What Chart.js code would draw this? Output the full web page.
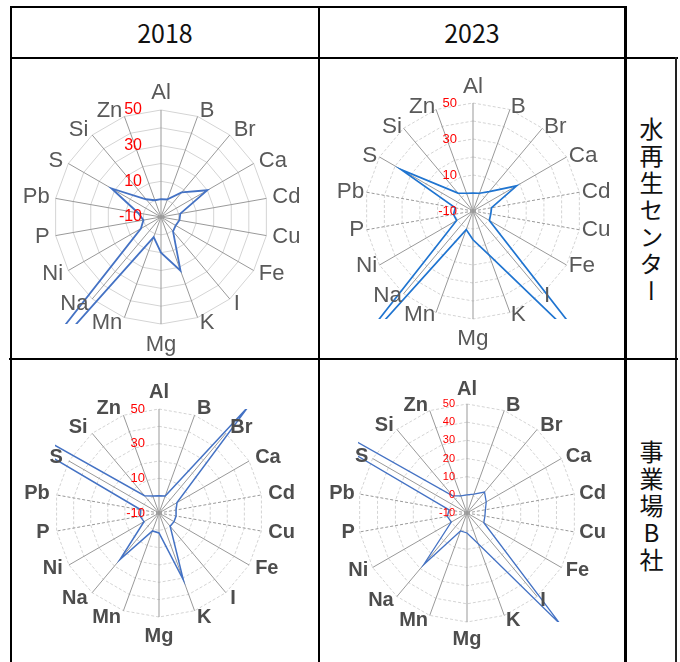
<!DOCTYPE html>
<html lang="ja">
<head>
<meta charset="utf-8">
<script src="https://cdn.jsdelivr.net/npm/chart.js@4.4.1/dist/chart.umd.min.js"></script>
<style>
html,body{margin:0;padding:0;background:#fff;}
body{width:680px;height:662px;position:relative;overflow:hidden;font-family:"Noto Sans CJK JP",sans-serif;}
.ln{position:absolute;background:#000;}
.hd{position:absolute;top:8px;height:49px;line-height:49px;text-align:center;font-size:25px;color:#111;}
.side{position:absolute;left:638px;width:26px;line-height:26px;writing-mode:vertical-rl;text-orientation:upright;font-size:24px;letter-spacing:3px;color:#111;}
canvas{position:absolute;}
</style>
</head>
<body>
<!-- table frame -->
<div class="ln" style="left:10px;top:6px;width:617px;height:2px"></div>
<div class="ln" style="left:10px;top:57px;width:668px;height:2px"></div>
<div class="ln" style="left:10px;top:6px;width:2px;height:656px"></div>
<div class="ln" style="left:318px;top:6px;width:2px;height:656px"></div>
<div class="ln" style="left:624px;top:6px;width:3px;height:656px"></div>
<div class="ln" style="left:675px;top:57px;width:2px;height:605px;background:#222"></div>
<div class="ln" style="left:9px;top:358px;width:669px;height:2px"></div>

<div class="hd" style="left:12px;width:306px">2018</div>
<div class="hd" style="left:320px;width:304px">2023</div>
<div class="side" style="top:117px">水再生センター</div>
<div class="side" style="top:440px">事業場B社</div>

<!-- 300x300 canvases, plot centre at (150,150) -->
<canvas id="c1" width="300" height="300" style="left:11px;top:67px"></canvas>
<canvas id="c2" width="300" height="300" style="left:323px;top:61px"></canvas>
<canvas id="c3" width="300" height="300" style="left:9px;top:363px"></canvas>
<canvas id="c4" width="300" height="300" style="left:317px;top:363px"></canvas>

<script>
// Element axes, clockwise from the top
const elements = ['Al','B','Br','Ca','Cd','Cu','Fe','I','K','Mg','Mn','Na','Ni','P','Pb','S','Si','Zn'];

// Water reclamation center
const plant2018 = [0, 0.5, 8, 20, 1, 0.5, -0.5, 0.5, 22, 10, 2, 140, 3, 0, 3, 22, 3, 0];
const plant2023 = [0, 0.5, 4, 18, 0.5, 0, 0.5, 97, 16, 6, 1, 110, 0.5, 1, 0, 36, 3, 0.5];

// Company B site
const firmB2018 = [0, 0.5, 70, 2, 0, 0, 0, 0, 31, 1.5, 1, 25, 0, 1, 0.7, 400, 3, 0.5];
const firmB2023 = [0, 1, 5, 2.2, 0.3, 0, 0.7, 70, 8, 1, 0.5, 27, 0, 1, 0, 450, 2.3, 0];

// Value-axis labels
const ticksOdd = ['-10', '10', '30', '50'];
const ticksAll = ['-10', '0', '10', '20', '30', '40', '50'];

const FONT = '"Liberation Sans", Arial, sans-serif';

// Element names: side labels start at the axis end, top/bottom ones are centred
const axisLabels = {
  id: 'axisLabels',
  afterDraw(chart, args, o) {
    const r = chart.scales.r, ctx = chart.ctx, R = r.drawingArea;
    const labels = chart.data.labels, n = labels.length;
    ctx.save();
    ctx.font = o.weight + ' ' + o.size + 'px ' + FONT;
    ctx.fillStyle = o.color;
    labels.forEach((txt, i) => {
      const deg = i * 360 / n;
      if (deg === 0 || deg === 180) {
        const p = r.getPointPosition(i, R + o.endGap);
        ctx.textAlign = 'center';
        ctx.textBaseline = 'alphabetic';
        ctx.fillText(txt, p.x, deg === 0 ? p.y : p.y + o.size * 0.72);
      } else {
        const p = r.getPointPosition(i, R + o.gap);
        ctx.textAlign = deg < 180 ? 'left' : 'right';
        ctx.textBaseline = 'middle';
        ctx.fillText(txt, p.x, p.y);
      }
    });
    ctx.restore();
  }
};

// Red value labels, right-aligned just left of the first axis
const valueLabels = {
  id: 'valueLabels',
  afterDraw(chart, args, o) {
    const r = chart.scales.r, ctx = chart.ctx;
    ctx.save();
    ctx.font = o.size + 'px ' + FONT;
    ctx.fillStyle = '#ff0000';
    ctx.textAlign = 'right';
    ctx.textBaseline = 'middle';
    o.labels.forEach(t => {
      const d = r.getDistanceFromCenterForValue(Number(t));
      ctx.fillText(t, r.xCenter - o.gap, r.yCenter - d);
    });
    ctx.restore();
  }
};

// Off-scale spikes are cut at the square plot area
const squareClip = {
  id: 'squareClip',
  beforeDatasetsDraw(chart) {
    const r = chart.scales.r, R = r.drawingArea, ctx = chart.ctx;
    ctx.save();
    ctx.beginPath();
    ctx.rect(r.xCenter - R, r.yCenter - R, 2 * R, 2 * R);
    ctx.clip();
  },
  afterDatasetsDraw(chart) { chart.ctx.restore(); }
};

// Near-horizontal spokes (Cd, Cu, P, Pb) are dashed in the later charts
const dashedSpokes = [4, 5, 13, 14];

function radar(id, values, cfg) {
  return new Chart(document.getElementById(id), {
    type: 'radar',
    data: {
      labels: elements,
      datasets: [{
        data: values,
        borderColor: cfg.color,
        borderWidth: cfg.lw,
        fill: false,
        pointRadius: 0,
        tension: 0
      }]
    },
    options: {
      responsive: false,
      animation: false,
      events: [],
      layout: { padding: 150 - cfg.radius },
      plugins: {
        legend: { display: false },
        tooltip: { enabled: false },
        axisLabels: cfg.names,
        valueLabels: { labels: cfg.ticks, size: cfg.tickSize, gap: cfg.tickGap }
      },
      scales: {
        r: {
          min: -10,
          max: 50,
          ticks: { display: false, stepSize: 10 },
          grid: { circular: false, color: '#d4d4d4', lineWidth: 1 },
          border: { dash: cfg.dashed ? [3, 2] : [] },
          angleLines: {
            color: '#999999',
            lineWidth: 1,
            borderDash: (c) => (cfg.dashed && dashedSpokes.includes(c.index)) ? [3, 2] : []
          },
          pointLabels: { display: false }
        }
      }
    },
    plugins: [squareClip, axisLabels, valueLabels]
  });
}

radar('c1', plant2018, {
  radius: 107, color: '#4472c4', lw: 1.8, ticks: ticksOdd, tickSize: 16, tickGap: 19, dashed: false,
  names: { size: 22, weight: 'normal', color: '#595959', gap: 6, endGap: 11 }
});
radar('c2', plant2023, {
  radius: 108, color: '#1f74d0', lw: 1.7, ticks: ticksOdd, tickSize: 13, tickGap: 16, dashed: true,
  names: { size: 22.5, weight: 'normal', color: '#595959', gap: 2.5, endGap: 10 }
});
radar('c3', firmB2018, {
  radius: 104, color: '#4472c4', lw: 1.5, ticks: ticksOdd, tickSize: 13, tickGap: 14, dashed: true,
  names: { size: 20, weight: 'bold', color: '#4d4d4d', gap: 7, endGap: 11 }
});
radar('c4', firmB2023, {
  radius: 109, color: '#4472c4', lw: 1.3, ticks: ticksAll, tickSize: 11, tickGap: 12, dashed: true,
  names: { size: 20, weight: 'bold', color: '#4d4d4d', gap: 5, endGap: 9 }
});
</script>
</body>
</html>
